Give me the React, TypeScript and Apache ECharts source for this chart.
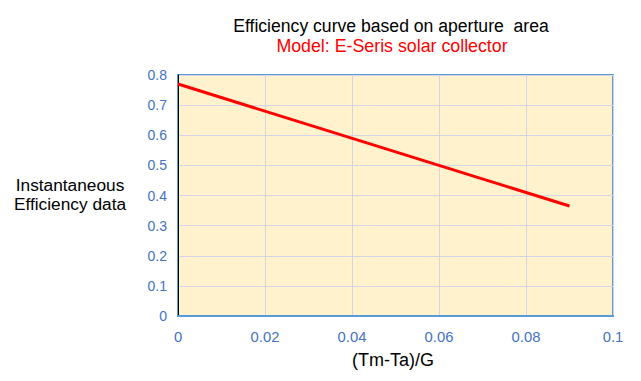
import React, { useEffect, useRef } from "react";
import * as echarts from "echarts";

const xValues = [0, 0.09];
const efficiency = [0.77, 0.365];
const titleText = "Efficiency curve based on aperture  area";
const subtitleText = "Model: E-Seris solar collector";
const yName = "Instantaneous\nEfficiency data";
const xName = "(Tm-Ta)/G";

export default function App() {
  const ref = useRef<HTMLDivElement>(null);
  useEffect(() => {
    if (!ref.current) return;
    const chart = echarts.init(ref.current, undefined, { renderer: "svg" });
    const font = "Liberation Sans";
    chart.setOption({
      animation: false,
      backgroundColor: "#ffffff",
      title: [
        {
          text: titleText,
          left: 386,
          top: 12,
          textAlign: "center",
          textStyle: { fontFamily: font, fontSize: 17.6, fontWeight: "normal", color: "#000" },
        },
        {
          text: subtitleText,
          left: 387,
          top: 32,
          textAlign: "center",
          textStyle: { fontFamily: font, fontSize: 17.8, fontWeight: "normal", color: "#ff0000" },
        },
        {
          text: yName,
          left: 65,
          top: 170,
          textAlign: "center",
          textStyle: { fontFamily: font, fontSize: 17.3, fontWeight: "normal", color: "#000", lineHeight: 19 },
        },
        {
          text: xName,
          left: 388,
          top: 346,
          textAlign: "center",
          textStyle: { fontFamily: font, fontSize: 18, fontWeight: "normal", color: "#000" },
        },
      ],
      grid: {
        left: 178,
        right: 28,
        top: 75,
        bottom: 65,
        show: true,
        backgroundColor: "#FFF2CC",
        borderColor: "#5B9BD5",
        borderWidth: 2,
      },
      xAxis: {
        type: "value",
        min: 0,
        max: 0.1,
        interval: 0.02,
        axisLine: { show: true, lineStyle: { color: "#5B9BD5", width: 2 } },
        axisTick: { show: false },
        axisLabel: {
          color: "#4472C4",
          fontFamily: font,
          fontSize: 14.8,
          margin: 13,
          formatter: (v: number) => String(Math.round(v * 100) / 100),
        },
        splitLine: { show: true, lineStyle: { color: "#D4D4E6", width: 1 } },
      },
      yAxis: {
        type: "value",
        min: 0,
        max: 0.8,
        interval: 0.1,
        axisLine: { show: true, lineStyle: { color: "#000", width: 1 } },
        axisTick: { show: false },
        axisLabel: {
          color: "#4472C4",
          fontFamily: font,
          fontSize: 14,
          margin: 11,
          formatter: (v: number) => String(Math.round(v * 10) / 10),
        },
        splitLine: { show: true, lineStyle: { color: "#D4D4E6", width: 1 } },
      },
      series: [
        {
          type: "line",
          data: xValues.map((x, i) => [x, efficiency[i]]),
          showSymbol: false,
          lineStyle: { color: "#ff0000", width: 3 },
        },
      ],
    });
    return () => chart.dispose();
  }, []);
  return <div ref={ref} style={{ width: 641, height: 381, position: "absolute", left: 0, top: 0 }} />;
}
